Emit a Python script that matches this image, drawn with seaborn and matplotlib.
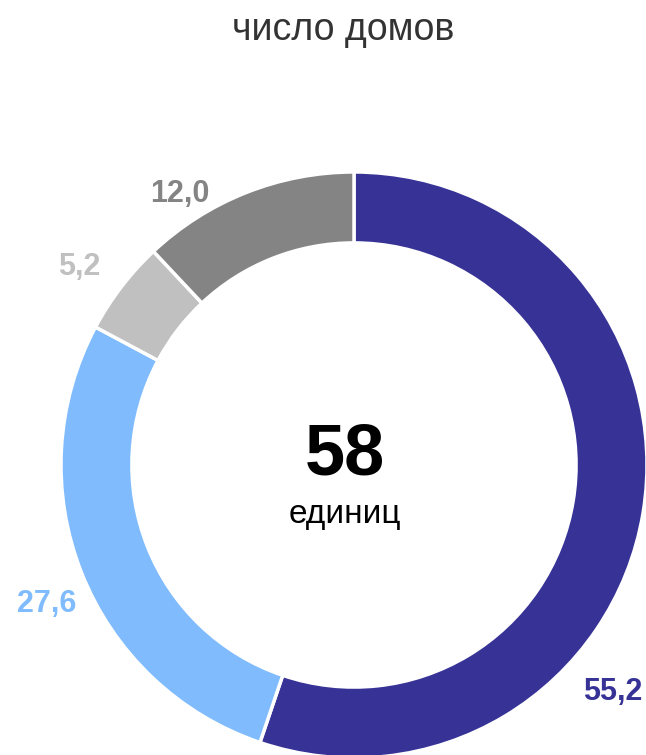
import matplotlib
matplotlib.use("Agg")
import matplotlib.pyplot as plt
import seaborn as sns

# ----- data -----
values = [55.2, 27.6, 5.2, 12.0]
value_labels = ["55,2", "27,6", "5,2", "12,0"]
colors = ["#373396", "#80bcfd", "#c0c0c0", "#848484"]
title = "число домов"
center_value = "58"
center_unit = "единиц"

# label anchors (data units, radius = 1), placed outside the ring
label_pos = [(0.884, -0.802), (-1.048, -0.502), (-0.939, 0.648), (-0.594, 0.898)]

sns.set_theme(style="white")
plt.rcParams['font.family'] = ['Liberation Sans', 'DejaVu Sans']

fig = plt.figure(figsize=(6.46, 7.55), dpi=100)
ax = fig.add_axes([0, 0, 1, 1])

ax.pie(values, colors=colors, startangle=90, counterclock=False, radius=1.0,
       wedgeprops=dict(width=0.242, edgecolor="white", linewidth=2.5))

for (x, y), txt, c in zip(label_pos, value_labels, colors):
    ax.text(x, y, txt, color=c, fontsize=22, fontweight="bold",
            ha="center", va="baseline")

ax.text(-0.031, -0.034, center_value, fontsize=52, fontweight="bold",
        color="black", ha="center", va="baseline")
ax.text(-0.031, -0.198, center_unit, fontsize=24, color="black",
        ha="center", va="baseline")
ax.text(-0.0375, 1.4505, title, fontsize=27, color="#333333",
        ha="center", va="baseline")

ax.set_xlim(-1.2082, 0.9966)
ax.set_ylim(-0.9898, 1.587)
ax.set_aspect("auto")
ax.axis("off")

fig.savefig("out.png", dpi=100, facecolor="white")
